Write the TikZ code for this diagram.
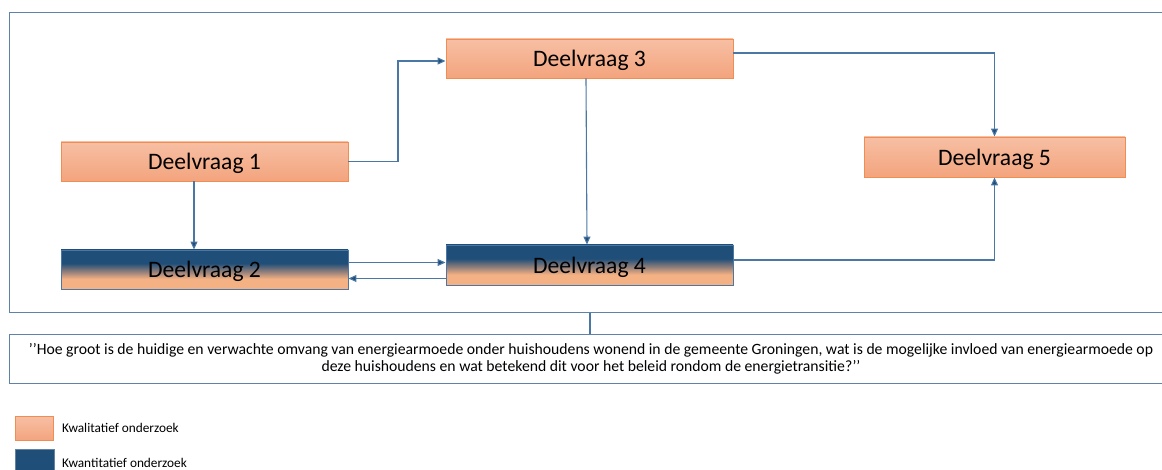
\documentclass[tikz,border=0pt]{standalone}
\usepackage{fontspec}
\setmainfont{Carlito}
\usetikzlibrary{arrows.meta,shadings}
\definecolor{dvblue}{HTML}{1F4E79}
\definecolor{dvorange}{HTML}{F4B183}
\definecolor{ortop}{HTML}{F7BFA4}
\definecolor{orbot}{HTML}{F3A47D}
\definecolor{orborder}{HTML}{F08D52}
\definecolor{lineblue}{HTML}{4A77A3}
\definecolor{frameblue}{HTML}{5E82A8}
\definecolor{midmix}{HTML}{8C7C7A}
\pgfdeclareverticalshading{blueorange}{100bp}{color(0bp)=(dvorange); color(25bp)=(dvorange); color(38bp)=(dvorange); color(48bp)=(midmix); color(58bp)=(dvblue); color(75bp)=(dvblue); color(100bp)=(dvblue)}
\tikzset{
  qual/.style={draw=orborder, line width=0.9pt, top color=ortop, bottom color=orbot, font=\fontsize{23.6}{26}\selectfont, text=black, inner sep=0pt, text depth=0pt},
  quant/.style={draw=lineblue, line width=0.9pt, shading=blueorange, font=\fontsize{23.6}{26}\selectfont, text=black, inner sep=0pt, text depth=0pt},
  conn/.style={draw=lineblue, line width=1.1pt, -{Triangle[length=8pt,width=7pt,fill=dvblue]}},
  plain/.style={draw=lineblue, line width=1.1pt},
  frame/.style={draw=frameblue, line width=1pt},
}
\begin{document}
\begin{tikzpicture}[x=1pt,y=-1pt]
\useasboundingbox (0,0) rectangle (1162,470);
\clip (0,0) rectangle (1162,470);
% outer frame and question box
\draw[frame] (9,13) rectangle (1172,313);
\node[frame, draw, minimum width=1163pt, minimum height=49pt, anchor=north west, inner sep=0pt,
      align=center, font=\fontsize{15.7}{17.5}\selectfont] (q) at (9,334)
  {’’Hoe groot is de huidige en verwachte omvang van energiearmoede onder huishoudens wonend in de gemeente Groningen, wat is de mogelijke invloed van energiearmoede op\\deze huishoudens en wat betekend dit voor het beleid rondom de energietransitie?’’};
\coordinate (ftop) at (590,313);
\draw[plain] (ftop) -- (q.north -| ftop);
% boxes
\node[qual, minimum width=287pt, minimum height=39pt] (d1) at (204.5,161.5) {Deelvraag 1};
\node[quant, minimum width=287pt, minimum height=39pt] (d2) at (204.5,269.5) {Deelvraag 2};
\node[qual, minimum width=287pt, minimum height=39pt] (d3) at (589.5,58.5) {Deelvraag 3};
\node[quant, minimum width=287pt, minimum height=40pt] (d4) at (589.5,265) {Deelvraag 4};
\node[qual, minimum width=261pt, minimum height=40pt] (d5) at (994.5,157) {Deelvraag 5};
% connectors
\draw[conn] (d1.east) -- (398,161.5) |- (d3.west |- 0,61);
\draw[conn] (d1.south -| 194,0) -- (d2.north -| 194,0);
\draw[conn] (d3.south -| 586,0) -- (d4.north -| 587,0);
\draw[conn] (d3.east |- 0,53) -| (d5.north);
\draw[conn] (d4.east |- 0,260) -| (d5.south);
\draw[conn] (d2.east |- 0,262.5) -- (d4.west |- 0,262.5);
\draw[conn] (d4.west |- 0,278.5) -- (d2.east |- 0,278.5);
% legend
\node[draw=orborder, line width=0.9pt, top color=ortop, bottom color=orbot, minimum width=38pt, minimum height=24pt, inner sep=0pt] (l1) at (34.5,428.5) {};
\node[draw=dvblue!70!white, line width=0.5pt, fill=dvblue, minimum width=39pt, minimum height=24pt, inner sep=0pt] (l2) at (34.5,461) {};
\node[anchor=west, font=\fontsize{13.3}{15}\selectfont, inner sep=0pt] (t1) at (62,428) {Kwalitatief onderzoek};
\node[anchor=west, font=\fontsize{13.3}{15}\selectfont, inner sep=0pt] (t2) at (62,463) {Kwantitatief onderzoek};
\end{tikzpicture}
\end{document}
